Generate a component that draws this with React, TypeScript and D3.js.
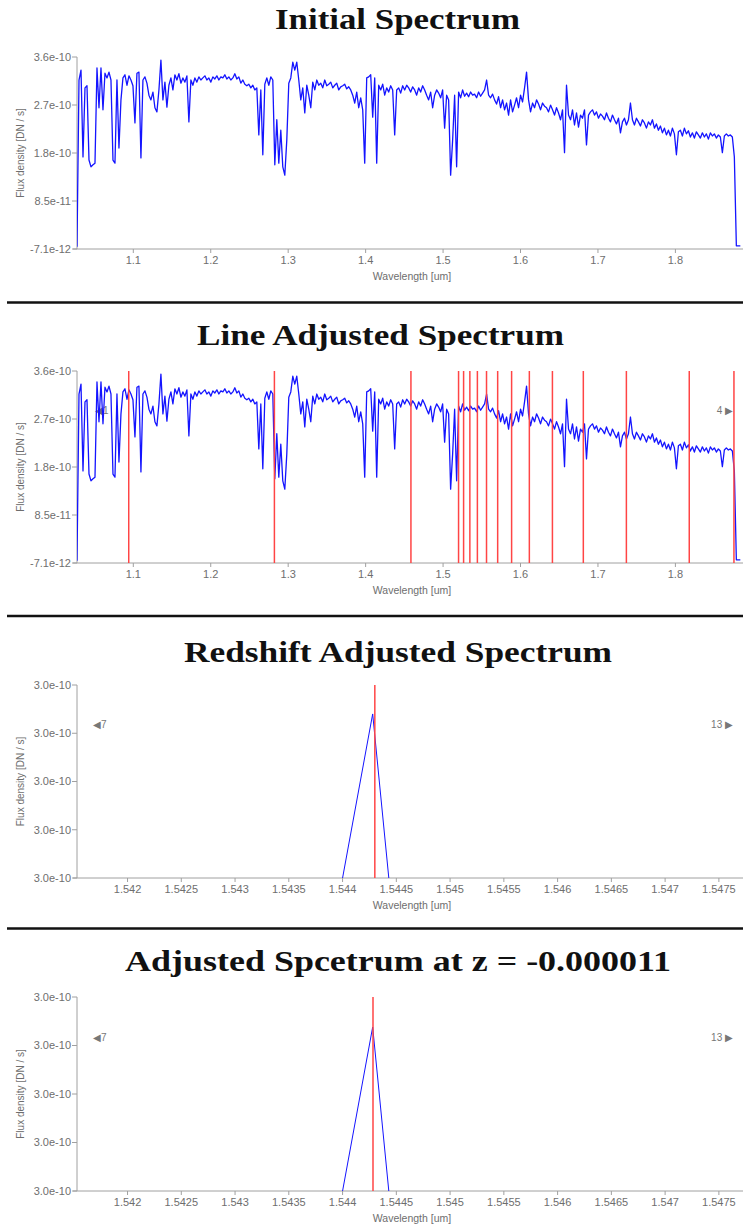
import { scaleLinear, line as d3Line } from "d3";

// flux in units of 1e-10 DN/s, sampled on a regular wavelength grid
const WAVE_START = 1.0273;
const WAVE_STEP = 0.00258;
const FLUX = [
  -0.03, 3.16, 3.35, 1.69, 3.01, 3.05, 1.63, 1.5, 1.54, 1.57,
  3.39, 2.63, 3.39, 2.59, 3.29, 3.2, 3.31, 3.16, 1.63, 1.57,
  3.16, 1.86, 2.78, 3.2, 3.26, 3.06, 3.24, 3.16, 3.05, 2.34,
  3.29, 3.31, 1.67, 3.16, 3.22, 3.1, 2.87, 2.78, 2.93, 2.63,
  2.55, 2.97, 3.54, 2.78, 3.12, 2.64, 3.06, 3.2, 2.97, 3.26,
  3.16, 3.28, 3.1, 3.2, 3.12, 3.24, 2.36, 3.16, 3.06, 3.2,
  3.12, 3.22, 3.16, 3.2, 3.24, 3.16, 3.2, 3.12, 3.22, 3.18,
  3.24, 3.16, 3.22, 3.2, 3.26, 3.18, 3.22, 3.16, 3.2, 3.28,
  3.18, 3.22, 3.1, 3.16, 3.08, 3.05, 3.08, 3.01, 3.06, 2.97,
  3.01, 2.11, 2.97, 1.73, 3.08, 3.2, 3.06, 3.22, 3.16, 1.54,
  2.4, 1.57, 2.2, 1.5, 1.34, 2.01, 3.1, 3.2, 3.5, 3.35,
  3.5, 3.16, 2.78, 3.01, 2.53, 3.06, 2.87, 2.63, 3.12, 2.97,
  3.16, 3.06, 3.1, 3.01, 3.16, 3.05, 3.08, 3.12, 3.01, 3.06,
  3.1, 2.97, 3.03, 3.05, 3.08, 2.99, 3.03, 2.97, 2.87, 2.72,
  2.93, 2.63, 2.82, 2.59, 1.57, 3.2, 3.22, 3.26, 2.45, 3.2,
  1.57, 3.06, 2.97, 3.08, 2.87, 3.01, 2.93, 3.05, 2.97, 2.11,
  2.97, 3.01, 2.91, 3.05, 2.97, 3.06, 3.01, 2.93, 3.03, 2.97,
  2.87, 3.01, 2.93, 3.05, 2.97, 2.87, 2.78, 2.93, 2.63, 2.87,
  2.97, 2.91, 2.82, 2.97, 2.24, 2.87, 2.78, 1.34, 2.01, 2.87,
  1.5, 2.93, 2.82, 2.97, 2.85, 2.91, 2.84, 2.93, 2.87, 2.89,
  2.82, 2.93, 2.85, 2.91, 2.97, 3.16, 2.87, 2.82, 2.89, 2.78,
  2.7, 2.84, 2.63, 2.78, 2.59, 2.72, 2.49, 2.78, 2.55, 2.68,
  2.82, 2.63, 2.87, 2.74, 3.01, 3.31, 2.78, 2.55, 2.72, 2.63,
  2.78, 2.7, 2.59, 2.72, 2.66, 2.63, 2.55, 2.68, 2.59, 2.49,
  2.63, 2.53, 2.4, 2.59, 1.77, 3.06, 2.49, 2.4, 2.59, 2.3,
  2.53, 2.26, 2.49, 2.43, 2.59, 1.92, 2.49, 2.55, 2.59, 2.49,
  2.55, 2.43, 2.51, 2.47, 2.4, 2.53, 2.43, 2.36, 2.49, 2.4,
  2.32, 2.43, 2.15, 2.36, 2.43, 2.3, 2.4, 2.72, 2.4, 2.3,
  2.43, 2.36, 2.28, 2.4, 2.34, 2.24, 2.36, 2.3, 2.4, 2.24,
  2.32, 2.2, 2.28, 2.15, 2.24, 2.11, 2.2, 2.09, 2.24, 2.13,
  1.73, 2.17, 2.2, 2.09, 2.24, 2.13, 2.19, 2.07, 2.15, 2.05,
  2.17, 2.11, 2.05, 2.15, 2.07, 2.13, 2.03, 2.15, 2.09, 2.13,
  2.05, 2.11, 2.07, 1.77, 2.09, 2.13, 2.09, 2.11, 2.07, 1.69,
  -0.01, -0.01, -0.01,
];
const FLUX_DOMAIN = [-0.071, 3.6];
const WIDE_DOMAIN = [1.0273, 1.886];
const WIDE_TICKS = [1.1, 1.2, 1.3, 1.4, 1.5, 1.6, 1.7, 1.8];

// Paschen / Brackett lines (um)
const LINE_WAVES = [
  1.0941, 1.2822, 1.4585, 1.52, 1.5265, 1.5346, 1.5443, 1.5561, 1.5705,
  1.5885, 1.6114, 1.6412, 1.6811, 1.7367, 1.8179, 1.8756,
];

const BR17 = 1.5443;
const Z = -0.000011;
const ZOOM_DOMAIN = [1.54153, 1.547715];
const ZOOM_TICKS = [
  1.542, 1.5425, 1.543, 1.5435, 1.544, 1.5445, 1.545, 1.5455, 1.546, 1.5465,
  1.547, 1.5475,
];
const ZOOM_WAVE = [1.544, 1.54428, 1.54443];
const ZOOM_FLUX_REDSHIFT = [2.996, 3.0028, 2.996];
const ZOOM_FLUX_ADJUSTED = [2.996, 3.00276, 2.996];
const ZOOM_FLUX_DOMAIN = [2.996, 3.004];

const TITLES = [
  "Initial Spectrum",
  "Line Adjusted Spectrum",
  "Redshift Adjusted Spectrum",
  "Adjusted Spcetrum at z = -0.000011",
];

const W = 743;
const H = 1226;
const LEFT = 77;
const RIGHT = 742;
const AXIS = "#a0a0a0";
const TEXT = "#6e6e6e";
const SANS = "'Liberation Sans', Arial, sans-serif";

type Marker = { text: string; x: number; anchor: "start" | "end" };

type PanelProps = {
  id: string;
  title: string;
  titleX: number;
  titleY: number;
  titleWidth: number;
  top: number;
  bottom: number;
  xDomain: number[];
  xTicks: number[];
  yDomain: number[];
  wave: number[];
  flux: number[];
  lineWidth: number;
  lines: number[];
  markers: Marker[];
  markerY: number;
};

const Panel = (p: PanelProps) => {
  const x = scaleLinear().domain(p.xDomain).range([LEFT, RIGHT]);
  const y = scaleLinear().domain(p.yDomain).range([p.bottom, p.top]);
  const yTicks = [0, 1, 2, 3, 4].map(
    (i) => p.yDomain[0] + ((p.yDomain[1] - p.yDomain[0]) * i) / 4
  );
  const path =
    d3Line<number>()
      .x((_, i) => x(p.wave[i]))
      .y((d) => y(d))(p.flux) ?? "";
  const mid = (p.top + p.bottom) / 2;

  return (
    <g>
      <text
        x={p.titleX}
        y={p.titleY}
        textAnchor="middle"
        fontFamily="'Liberation Serif', 'Times New Roman', serif"
        fontWeight="bold"
        fontSize={30}
        textLength={p.titleWidth}
        lengthAdjust="spacingAndGlyphs"
        fill="#111"
      >
        {p.title}
      </text>
      <clipPath id={p.id}>
        <rect x={LEFT} y={p.top - 1} width={RIGHT - LEFT + 2} height={p.bottom - p.top + 2} />
      </clipPath>

      {/* axes */}
      <line x1={LEFT} x2={LEFT} y1={p.top} y2={p.bottom} stroke={AXIS} />
      <line x1={LEFT - 4} x2={W} y1={p.bottom} y2={p.bottom} stroke={AXIS} />
      {yTicks.map((t, i) => (
        <g key={`y-${i}`}>
          <line x1={LEFT - 5} x2={LEFT} y1={y(t)} y2={y(t)} stroke={AXIS} />
          <text
            x={LEFT - 6}
            y={y(t)}
            dy="0.35em"
            textAnchor="end"
            fontFamily={SANS}
            fontSize={11}
            fill={TEXT}
          >
            {(t * 1e-10).toExponential(1)}
          </text>
        </g>
      ))}
      {p.xTicks.map((t, i) => (
        <g key={`x-${i}`}>
          <line x1={x(t)} x2={x(t)} y1={p.bottom} y2={p.bottom + 4} stroke={AXIS} />
          <text
            x={x(t)}
            y={p.bottom + 15}
            textAnchor="middle"
            fontFamily={SANS}
            fontSize={11}
            fill={TEXT}
          >
            {String(t)}
          </text>
        </g>
      ))}
      <text
        x={412}
        y={p.bottom + 31}
        textAnchor="middle"
        fontFamily={SANS}
        fontSize={10.5}
        fill={TEXT}
      >
        Wavelength [um]
      </text>
      <text
        transform={`translate(24,${mid}) rotate(-90)`}
        textAnchor="middle"
        fontFamily={SANS}
        fontSize={10}
        fill={TEXT}
      >
        Flux density [DN / s]
      </text>

      {p.markers.map((m, i) => (
        <text
          key={`m-${i}`}
          x={m.x}
          y={p.markerY}
          dy="0.35em"
          textAnchor={m.anchor}
          fontFamily={SANS}
          fontSize={10}
          fill="#777"
        >
          {m.text}
        </text>
      ))}

      <g clipPath={`url(#${p.id})`}>
        <path d={path} fill="none" stroke="#1414ff" strokeWidth={p.lineWidth} strokeLinejoin="round" />
        {p.lines.map((l, i) => (
          <line
            key={`l-${i}`}
            x1={x(l)}
            x2={x(l)}
            y1={p.top}
            y2={p.bottom}
            stroke="#ff4545"
            strokeWidth={1.5}
          />
        ))}
      </g>
    </g>
  );
};

export default function App() {
  const wave = FLUX.map((_, i) => WAVE_START + i * WAVE_STEP);
  const separators = [302.5, 616, 928.5];
  return (
    <svg
      width={W}
      height={H}
      style={{ position: "absolute", left: 0, top: 0, background: "#fff" }}
    >
      <rect width={W} height={H} fill="#fff" />
      {separators.map((s, i) => (
        <line key={i} x1={7} x2={W} y1={s} y2={s} stroke="#111" strokeWidth={2.5} />
      ))}
      <Panel
        id="c1"
        title={TITLES[0]}
        titleX={397.5}
        titleY={29}
        titleWidth={245}
        top={57}
        bottom={249}
        xDomain={WIDE_DOMAIN}
        xTicks={WIDE_TICKS}
        yDomain={FLUX_DOMAIN}
        wave={wave}
        flux={FLUX}
        lineWidth={1.3}
        lines={[]}
        markers={[]}
        markerY={0}
      />
      <Panel
        id="c2"
        title={TITLES[1]}
        titleX={380.5}
        titleY={345}
        titleWidth={367}
        top={371}
        bottom={563}
        xDomain={WIDE_DOMAIN}
        xTicks={WIDE_TICKS}
        yDomain={FLUX_DOMAIN}
        wave={wave}
        flux={FLUX}
        lineWidth={1.3}
        lines={LINE_WAVES}
        markers={[
          { text: "◀1", x: 95, anchor: "start" },
          { text: "4 ▶", x: 733, anchor: "end" },
        ]}
        markerY={410}
      />
      <Panel
        id="c3"
        title={TITLES[2]}
        titleX={398}
        titleY={662}
        titleWidth={428}
        top={685}
        bottom={878}
        xDomain={ZOOM_DOMAIN}
        xTicks={ZOOM_TICKS}
        yDomain={ZOOM_FLUX_DOMAIN}
        wave={ZOOM_WAVE}
        flux={ZOOM_FLUX_REDSHIFT}
        lineWidth={1}
        lines={[BR17]}
        markers={[
          { text: "◀7", x: 93, anchor: "start" },
          { text: "13 ▶", x: 733, anchor: "end" },
        ]}
        markerY={724}
      />
      <Panel
        id="c4"
        title={TITLES[3]}
        titleX={398}
        titleY={971}
        titleWidth={546}
        top={997}
        bottom={1191}
        xDomain={ZOOM_DOMAIN}
        xTicks={ZOOM_TICKS}
        yDomain={ZOOM_FLUX_DOMAIN}
        wave={ZOOM_WAVE}
        flux={ZOOM_FLUX_ADJUSTED}
        lineWidth={1}
        lines={[BR17 * (1 + Z)]}
        markers={[
          { text: "◀7", x: 93, anchor: "start" },
          { text: "13 ▶", x: 733, anchor: "end" },
        ]}
        markerY={1037}
      />
    </svg>
  );
}
